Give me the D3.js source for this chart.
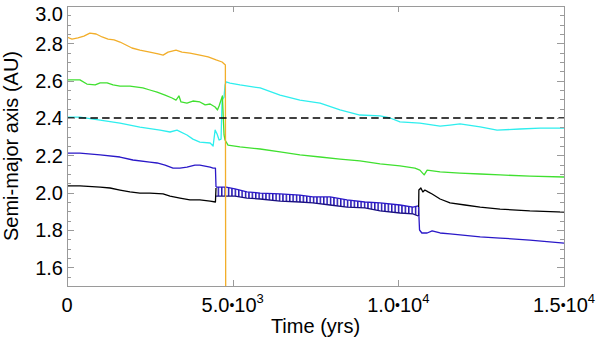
<!DOCTYPE html>
<html>
<head>
<meta charset="utf-8">
<script src="https://cdn.jsdelivr.net/npm/d3@7"></script>
<style>
  body { margin: 0; background: #fff; }
  svg text { font-family: "Liberation Sans", Arial, Helvetica, sans-serif; fill: #000; }
</style>
</head>
<body>
<div id="chart"></div>
<script>
// semi-major axis vs time, five bodies

// orange
const orangeT = [0, 150, 330, 510, 690, 880, 1060, 1240, 1420, 1600, 1780, 1960, 2200, 2500, 2750, 2900, 3050, 3290, 3470, 3710, 4010, 4260, 4500, 4680, 4780, 4790];
const orangeA = [2.834, 2.823, 2.829, 2.839, 2.855, 2.850, 2.834, 2.823, 2.818, 2.807, 2.791, 2.775, 2.764, 2.753, 2.743, 2.737, 2.753, 2.764, 2.753, 2.748, 2.737, 2.727, 2.711, 2.700, 2.684, 1.40];

// green
const greenT = [0, 390, 600, 850, 1000, 1210, 1390, 1600, 1900, 2290, 2500, 2720, 2960, 3170, 3290, 3380, 3440, 3620, 3800, 4010, 4170, 4320, 4470, 4540, 4590, 4650, 4690, 4720, 4740, 4770, 4860, 5220, 5830, 6430, 7030, 7640, 8240, 8840, 9450, 10050, 10500, 10650, 10780, 10870, 11260, 11860, 12470, 13070, 13970, 15000];
const greenA = [2.604, 2.604, 2.582, 2.577, 2.588, 2.588, 2.577, 2.571, 2.571, 2.561, 2.550, 2.539, 2.523, 2.507, 2.496, 2.518, 2.486, 2.480, 2.491, 2.486, 2.470, 2.475, 2.459, 2.443, 2.464, 2.496, 2.518, 2.389, 2.309, 2.282, 2.255, 2.245, 2.234, 2.218, 2.202, 2.191, 2.180, 2.170, 2.154, 2.143, 2.132, 2.121, 2.095, 2.121, 2.111, 2.105, 2.100, 2.095, 2.089, 2.084];

// cyan
const cyanT = [0, 390, 1000, 1600, 2200, 2810, 3110, 3320, 3620, 3800, 4010, 4320, 4410, 4470, 4530, 4590, 4650, 4680, 4740, 4770, 4800, 4920, 5220, 5830, 6430, 7030, 7640, 8240, 8840, 9450, 9750, 10050, 10650, 11260, 11560, 11860, 12470, 12980, 13670, 14280, 15000];
const cyanA = [2.405, 2.405, 2.389, 2.373, 2.351, 2.335, 2.325, 2.335, 2.309, 2.287, 2.271, 2.266, 2.250, 2.335, 2.314, 2.282, 2.287, 2.496, 2.512, 2.577, 2.593, 2.587, 2.577, 2.561, 2.523, 2.496, 2.480, 2.443, 2.416, 2.411, 2.400, 2.379, 2.373, 2.357, 2.362, 2.368, 2.352, 2.335, 2.341, 2.346, 2.346];

// blue, before and after the locked stretch
const blueT = [0, 390, 1000, 1600, 1990, 2500, 2720, 2960, 3200, 3410, 3620, 3860, 4010, 4320, 4410, 4480, 4497];
const blueA = [2.212, 2.212, 2.202, 2.191, 2.175, 2.164, 2.159, 2.148, 2.132, 2.132, 2.137, 2.148, 2.148, 2.137, 2.132, 2.132, 2.030];
const blueT2 = [10610, 10640, 10710, 10870, 11020, 11260, 11560, 12470, 13070, 13970, 15000];
const blueA2 = [1.923, 1.800, 1.784, 1.784, 1.795, 1.784, 1.779, 1.763, 1.757, 1.746, 1.730];

// black
const blackT = [0, 390, 1000, 1300, 1600, 1900, 2200, 2500, 2900, 3110, 3410, 3710, 4010, 4320, 4480, 4497];
const blackA = [2.036, 2.036, 2.030, 2.025, 2.014, 2.004, 1.998, 1.998, 1.993, 1.982, 1.971, 1.961, 1.961, 1.955, 1.950, 2.025];
const blackT2 = [10610, 10620, 10680, 10740, 10800, 10900, 11020, 11260, 11560, 12010, 12470, 13070, 13970, 15000];
const blackA2 = [1.875, 2.014, 2.025, 2.004, 2.014, 2.004, 1.993, 1.966, 1.945, 1.934, 1.923, 1.912, 1.902, 1.896];

// oscillating band where blue and black are locked together
const bandT = [4497, 4800, 5070, 5430, 5830, 6430, 7030, 7420, 7940, 8450, 8990, 9450, 10050, 10440, 10600];
const bandHi = [2.030, 2.030, 2.020, 2.004, 1.998, 1.993, 1.987, 1.977, 1.977, 1.961, 1.950, 1.945, 1.934, 1.923, 1.929];
const bandLo = [1.982, 1.982, 1.982, 1.971, 1.966, 1.955, 1.950, 1.945, 1.934, 1.923, 1.918, 1.902, 1.891, 1.886, 1.875];

const refLevel = 2.4;

const yTicks = [1.6, 1.8, 2.0, 2.2, 2.4, 2.6, 2.8, 3.0];
const xTicks = [0, 5000, 10000, 15000];
const xTickMant = ["0", "5.0", "1.0", "1.5"];
const xTickExp = ["", "3", "4", "4"];

const width = 600, height = 340;
const margin = {top: 6, right: 36, bottom: 54, left: 67};

const svg = d3.select("#chart").append("svg")
    .attr("width", width)
    .attr("height", height);

const x = d3.scaleLinear().domain([0, 15000]).range([margin.left, width - margin.right]);
const y = d3.scaleLinear().domain([1.5, 3.0]).range([height - margin.bottom, margin.top]);

const zip = (ts, as) => ts.map((t, i) => [t, as[i]]);
const line = d3.line().x(d => x(d[0])).y(d => y(d[1]));

const defs = svg.append("defs");
defs.append("clipPath").attr("id", "plotclip")
  .append("rect")
    .attr("x", x(0)).attr("y", y(3.0))
    .attr("width", x(15000) - x(0)).attr("height", y(1.5) - y(3.0));

const pat = defs.append("pattern")
    .attr("id", "hatch")
    .attr("patternUnits", "userSpaceOnUse")
    .attr("width", 3.4).attr("height", 10);
pat.append("rect").attr("x", 0).attr("y", 0).attr("width", 1.5).attr("height", 10).attr("fill", "#2414b4");

const plot = svg.append("g").attr("clip-path", "url(#plotclip)");

const draw = (data, color) => plot.append("path")
    .datum(data)
    .attr("fill", "none")
    .attr("stroke", color)
    .attr("stroke-width", 1.3)
    .attr("stroke-linejoin", "round")
    .attr("d", line);

draw(zip(blackT, blackA), "#000");
draw(zip(blueT, blueA), "#2a18c8");

// band between the locked orbits
const bandData = bandT.map((t, i) => ({t: t, hi: bandHi[i], lo: bandLo[i]}));
plot.append("path")
    .datum(bandData)
    .attr("fill", "url(#hatch)")
    .attr("d", d3.area().x(d => x(d.t)).y0(d => y(d.lo)).y1(d => y(d.hi)));
draw(zip(bandT, bandHi), "#2a18c8");
draw(zip(bandT, bandLo), "#1a1080");

draw(zip(blackT2, blackA2), "#000");
draw(zip(blueT2, blueA2), "#2a18c8");
draw(zip(cyanT, cyanA), "#2eeeee");
draw(zip(greenT, greenA), "#40e030");
draw(zip(orangeT, orangeA), "#f2ae2a");

// reference line
plot.append("line")
    .attr("x1", x(0)).attr("x2", x(15000))
    .attr("y1", y(refLevel)).attr("y2", y(refLevel))
    .attr("stroke", "#000")
    .attr("stroke-width", 1.3)
    .attr("stroke-dasharray", "7.5,4.2");

// frame and ticks
const axisColor = "#9a9a9a";
svg.append("rect")
    .attr("x", x(0) + 0.5).attr("y", y(3.0) + 0.5)
    .attr("width", x(15000) - x(0)).attr("height", y(1.5) - y(3.0))
    .attr("fill", "none").attr("stroke", axisColor);

const minorY = d3.range(31).map(i => 1.5 + i * 0.05);
const tickG = svg.append("g").attr("stroke", axisColor).attr("stroke-width", 1);
minorY.forEach(v => {
  const isMajor = Math.abs(Math.round(v * 5) - v * 5) < 1e-6;
  const len = isMajor ? 7 : 4;
  const yy = Math.round(y(v)) + 0.5;
  tickG.append("line").attr("x1", x(0)).attr("x2", x(0) + len).attr("y1", yy).attr("y2", yy);
  tickG.append("line").attr("x1", x(15000)).attr("x2", x(15000) - len).attr("y1", yy).attr("y2", yy);
});
xTicks.forEach(v => {
  const xx = Math.round(x(v)) + 0.5;
  tickG.append("line").attr("x1", xx).attr("x2", xx).attr("y1", y(1.5)).attr("y2", y(1.5) - 6);
  tickG.append("line").attr("x1", xx).attr("x2", xx).attr("y1", y(3.0)).attr("y2", y(3.0) + 6);
});

// tick labels (the top one is pushed down so it stays inside the page)
svg.append("g").selectAll("text")
  .data(yTicks)
  .join("text")
    .attr("x", x(0) - 4)
    .attr("y", d => Math.max(y(d), 13.5))
    .attr("dy", "0.36em")
    .attr("text-anchor", "end")
    .attr("font-size", 20)
    .text(d => d.toFixed(1));

const xl = svg.append("g").selectAll("text")
  .data(xTicks)
  .join("text")
    .attr("x", d => x(d))
    .attr("y", 312)
    .attr("text-anchor", "middle")
    .attr("font-size", 20);
xl.each(function(d, i) {
  const t = d3.select(this);
  t.append("tspan").text(xTickMant[i]);
  if (xTickExp[i]) {
    t.append("tspan").text("\u2022").attr("font-size", 14).attr("dy", -2);
    t.append("tspan").text("10").attr("dy", 2);
    t.append("tspan").text(xTickExp[i]).attr("font-size", 13).attr("dy", -9);
  }
});

// axis titles
svg.append("text")
    .attr("x", (x(0) + x(15000)) / 2)
    .attr("y", 333)
    .attr("text-anchor", "middle")
    .attr("font-size", 20)
    .text("Time (yrs)");

svg.append("text")
    .attr("transform", `translate(18,${(y(1.5) + y(3.0)) / 2}) rotate(-90)`)
    .attr("text-anchor", "middle")
    .attr("font-size", 20)
    .text("Semi-major axis (AU)");
</script>
</body>
</html>
